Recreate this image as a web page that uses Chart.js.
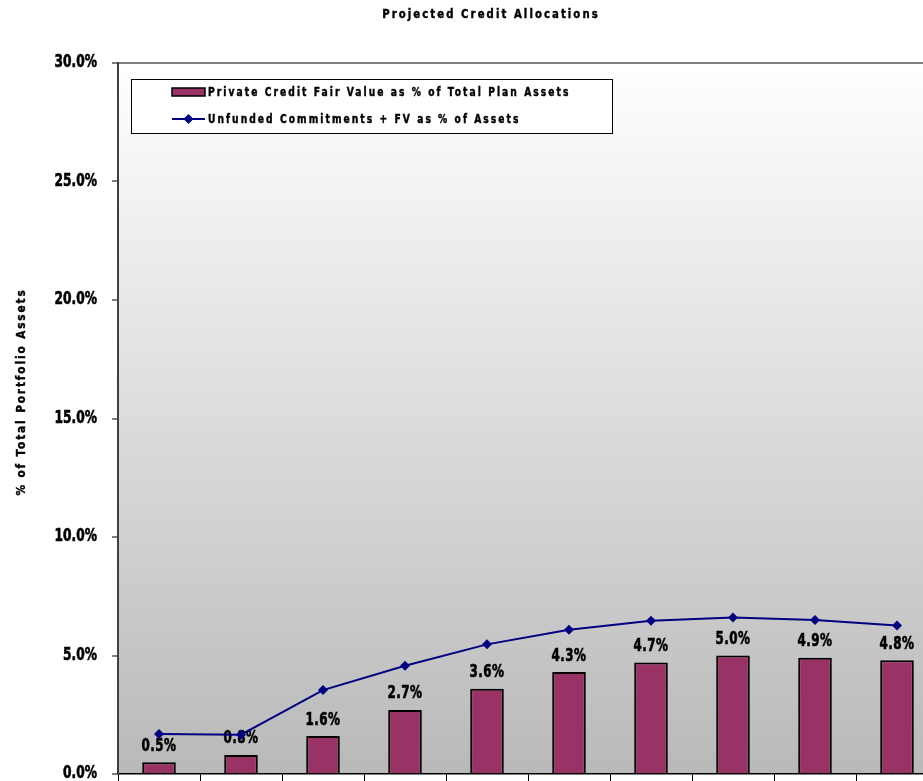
<!DOCTYPE html>
<html>
<head>
<meta charset="utf-8">
<script src="https://cdn.jsdelivr.net/npm/chart.js@4"></script>
<style>
  html, body { margin:0; padding:0; background:#fff; overflow:hidden; }
  #wrap { position:absolute; left:0; top:0; width:982px; height:800px; }
</style>
</head>
<body>
<div id="wrap"><canvas id="chart" width="982" height="800"></canvas></div>
<script>
const chartTitle = 'Projected Credit Allocations';
const axisTitle = '% of Total Portfolio Assets';
const categories = ['2008', '2009', '2010', '2011', '2012', '2013', '2014', '2015', '2016', '2017'];
const fairValueLabel = 'Private Credit Fair Value as % of Total Plan Assets';
const fairValue = [0.5, 0.8, 1.6, 2.7, 3.6, 4.3, 4.7, 5.0, 4.9, 4.8];
const commitmentLabel = 'Unfunded Commitments + FV as % of Assets';
const commitments = [1.69, 1.66, 3.54, 4.57, 5.47, 6.09, 6.47, 6.60, 6.50, 6.27];
const yMin = 0, yMax = 30, yStep = 5;

const FONT = "'DejaVu Sans Condensed', 'DejaVu Sans', sans-serif";
const BAR = '#993366';
const LINE = '#000080';

function pct(v) {
    return Number(v).toFixed(1) + '%';
}

// squeezed heavy text, the condensed look of the labels
function squeezed(ctx, text, x, y, o) {
    ctx.save();
    ctx.translate(x, y);
    if (o.rotate) ctx.rotate(o.rotate);
    ctx.scale(o.sx, 1);
    ctx.font = `bold ${o.size}px ${FONT}`;
    ctx.letterSpacing = (o.spacing || 0) + 'px';
    ctx.fillStyle = '#000';
    ctx.strokeStyle = '#000';
    ctx.lineWidth = o.heavy || 0.5;
    ctx.textAlign = o.align || 'center';
    ctx.textBaseline = 'middle';
    ctx.fillText(text, 0, 0);
    ctx.strokeText(text, 0, 0);
    ctx.restore();
}

const decorations = {
    id:'decorations',
    beforeDraw(chart) {
        const { ctx, chartArea:a } = chart;
        ctx.save();
        const g = ctx.createLinearGradient(0, a.top, 0, a.bottom);
        g.addColorStop(0, '#ffffff');
        g.addColorStop(1, '#b9b9b9');
        ctx.fillStyle = g;
        ctx.fillRect(a.left, a.top, a.right - a.left, a.bottom - a.top);
        ctx.restore();
    },
    afterDatasetDraw(chart, args) {
        if (args.index !== 0) return;
        args.meta.data.forEach((bar, i) => {
            squeezed(chart.ctx, pct(fairValue[i]), bar.x, bar.y - 16, { size:17, sx:0.78, spacing:0.6, heavy:0.6 });
        });
    },
    afterDraw(chart) {
        const { ctx } = chart;
        const y = chart.scales.y;

        // y tick labels
        y.ticks.forEach(t => {
            squeezed(ctx, pct(t.value), 97, y.getPixelForValue(t.value), { size:17, sx:0.8, align:'right', heavy:0.6 });
        });

        squeezed(ctx, chartTitle, 491, 15, { size:12.5, sx:0.9, spacing:2.3, heavy:0.4 });
        squeezed(ctx, axisTitle, 22, 392, { size:13, sx:0.9, spacing:2.1, heavy:0.4, rotate:-Math.PI / 2 });

        // legend box
        ctx.save();
        ctx.fillStyle = '#fff';
        ctx.fillRect(131.5, 79.5, 481, 54);
        ctx.strokeStyle = '#000';
        ctx.lineWidth = 1;
        ctx.strokeRect(131.5, 79.5, 481, 54);

        ctx.fillStyle = BAR;
        ctx.fillRect(172, 88, 33, 8);
        ctx.lineWidth = 1.5;
        ctx.strokeRect(172, 88, 33, 8);

        ctx.strokeStyle = LINE;
        ctx.lineWidth = 2;
        ctx.beginPath();
        ctx.moveTo(172, 119);
        ctx.lineTo(205, 119);
        ctx.stroke();
        ctx.fillStyle = LINE;
        ctx.beginPath();
        ctx.moveTo(188.5, 114);
        ctx.lineTo(193.5, 119);
        ctx.lineTo(188.5, 124);
        ctx.lineTo(183.5, 119);
        ctx.closePath();
        ctx.fill();
        ctx.restore();

        squeezed(ctx, fairValueLabel, 208, 92.5, { size:12, sx:0.85, spacing:2.4, heavy:0.4, align:'left' });
        squeezed(ctx, commitmentLabel, 208, 119.5, { size:12, sx:0.85, spacing:2.4, heavy:0.4, align:'left' });
    }
};

new Chart(document.getElementById('chart'), {
    type:'bar',
    data:{
        labels:categories,
        datasets:[
            {
                type:'bar',
                label:fairValueLabel,
                data:fairValue,
                backgroundColor:BAR,
                borderColor:'#000',
                borderWidth:2,
                barPercentage:0.41,
                categoryPercentage:1,
                order:1
            },
            {
                type:'line',
                label:commitmentLabel,
                data:commitments,
                borderColor:LINE,
                borderWidth:2,
                backgroundColor:LINE,
                pointStyle:'rectRot',
                pointRadius:5,
                pointBorderWidth:0,
                tension:0,
                order:0
            }
        ]
    },
    options:{
        responsive:false,
        animation:false,
        devicePixelRatio:1,
        layout:{ padding:{ top:63, right:44, left:0, bottom:0 } },
        plugins:{
            legend:{ display:false },
            title:{ display:false },
            tooltip:{ enabled:false }
        },
        scales:{
            x:{
                offset:true,
                grid:{ offset:true, drawOnChartArea:false, drawTicks:true, tickLength:7, tickColor:'#000', tickWidth:1 },
                border:{ color:'#000', width:1.5 },
                ticks:{ color:'#000', font:{ family:FONT, size:15, weight:'bold' } },
                afterFit(scale) { scale.height = 26; }
            },
            y:{
                min:yMin,
                max:yMax,
                ticks:{
                    stepSize:yStep,
                    padding:15,
                    color:'rgba(0,0,0,0)',
                    font:{ family:FONT, size:17, weight:'bold' },
                    callback:v => pct(v)
                },
                grid:{
                    color:ctx => ctx.tick && ctx.tick.value === yMax ? '#808080' : 'rgba(0,0,0,0)',
                    lineWidth:2,
                    tickLength:6,
                    tickColor:'#000',
                    tickWidth:1
                },
                border:{ color:'#404040', width:2 },
                afterFit(scale) { scale.width = 118; }
            }
        }
    },
    plugins:[decorations]
});
</script>
</body>
</html>
